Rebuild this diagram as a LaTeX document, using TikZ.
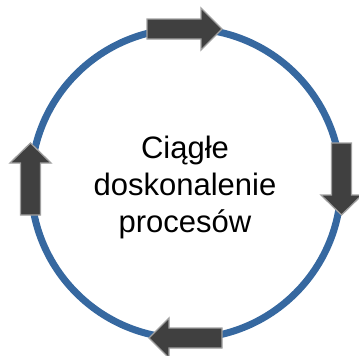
\documentclass[tikz,border=0pt]{standalone}
\usepackage{fontspec}
\setmainfont{Liberation Sans}
\definecolor{ringblue}{RGB}{54,104,160}
\definecolor{arrowfill}{RGB}{64,64,64}
\definecolor{arrowedge}{RGB}{160,160,160}
\begin{document}
\begin{tikzpicture}[x=1pt,y=-1pt,
  ring/.style={draw=ringblue,line width=7pt},
  arrowbox/.style={fill=arrowfill,draw=arrowedge,line width=1.3pt,line join=miter},
  label/.style={align=center,inner sep=0pt,font=\fontsize{31}{37}\selectfont}]
\useasboundingbox (0,0) rectangle (359,356);
\node[circle,ring,minimum size=310pt,inner sep=0pt] (ring) at (186,183.5) {};
% top arrow (pointing right)
\draw[arrowbox] (147,19) -- (201,19) -- (201,8) -- (222,29) -- (201,50) -- (201,39) -- (147,39) -- cycle;
% right arrow (pointing down)
\draw[arrowbox] (331.5,143) -- (331.5,195) -- (321,195) -- (341.5,215) -- (362,195) -- (351.5,195) -- (351.5,143) -- cycle;
% bottom arrow (pointing left)
\draw[arrowbox] (222,328) -- (169,328) -- (169,318) -- (149,338) -- (169,358) -- (169,348) -- (222,348) -- cycle;
% left arrow (pointing up)
\draw[arrowbox] (20.5,215) -- (20.5,163) -- (10,163) -- (30.5,143) -- (51,163) -- (40.5,163) -- (40.5,215) -- cycle;
\node[label] (txt) at (185,187) {Ciągłe\\doskonalenie\\procesów};
\end{tikzpicture}
\end{document}
